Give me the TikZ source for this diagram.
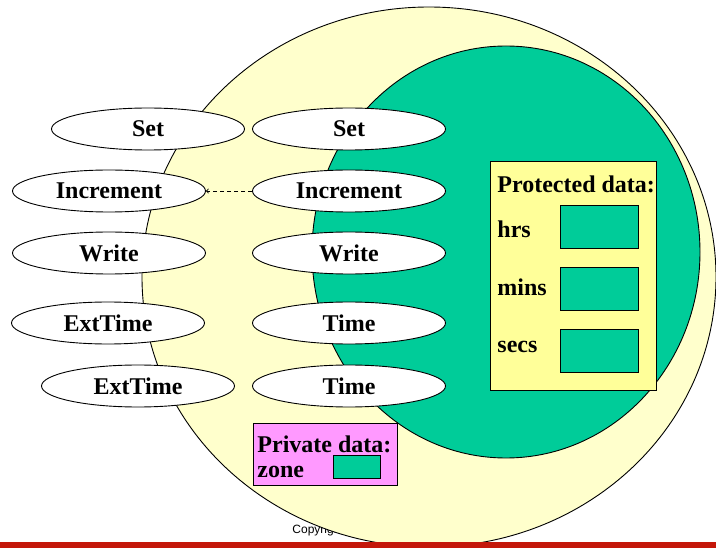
\documentclass[tikz,border=0pt]{standalone}
\usepackage{fontspec}
\setmainfont{Liberation Serif}
\newfontfamily\copyfont{Liberation Sans}
\usetikzlibrary{shapes.geometric}
\definecolor{shell}{HTML}{FFFFCC}
\definecolor{core}{HTML}{00CC99}
\definecolor{prot}{HTML}{FFFF99}
\definecolor{priv}{HTML}{FF99FF}
\definecolor{bar}{HTML}{C4170A}

\begin{document}
\begin{tikzpicture}[x=1pt,y=-1pt,line width=0.9pt,
  op/.style={draw,ellipse,fill=white,minimum width=193pt,minimum height=42pt,inner sep=0pt,
    font=\fontsize{24}{28}\selectfont\bfseries},
  lbl/.style={anchor=base west,inner sep=0pt,font=\fontsize{24}{28}\selectfont\bfseries},
  slot/.style={draw,fill=core}]
\useasboundingbox (0,0) rectangle (716,548);

\node[anchor=base west,inner sep=0pt,font=\copyfont\fontsize{12}{14}\selectfont] (copy) at (292,533) {Copyright};

\draw[fill=shell] (429,277) ellipse [x radius=287pt, y radius=270pt];
\draw[fill=core] (506,252) ellipse [x radius=194pt, y radius=206pt];
\fill[bar] (0,542) rectangle (716,548);

\node[op] (setL) at (148,129) {Set};
\node[op] (setR) at (349,129) {Set};
\node[op] (incL) at (109,191) {Increment};
\node[op] (incR) at (349,191) {Increment};
\node[op] (wrL) at (109,253) {Write};
\node[op] (wrR) at (349,253) {Write};
\node[op] (extA) at (108,323) {ExtTime};
\node[op] (timeA) at (349,323) {Time};
\node[op] (extB) at (138,386) {ExtTime};
\node[op] (timeB) at (349,386) {Time};

\path[draw,dash pattern=on 4pt off 3pt,->] (incR) -- (incL);

\draw[fill=prot] (490,161) rectangle (656,390);
\node[lbl] (protT) at (497,193) {Protected data:};
\node[lbl] (hrs) at (497,238) {hrs};
\node[lbl] (mins) at (497,296) {mins};
\node[lbl] (secs) at (497,353) {secs};
\draw[slot] (560,205) rectangle (638,248);
\draw[slot] (560,267) rectangle (638,310);
\draw[slot] (560,329) rectangle (638,372);

\draw[fill=priv] (253,423) rectangle (397,485);
\node[lbl] (privT) at (257,453) {Private data:};
\node[lbl] (zone) at (257,478) {zone};
\draw[slot] (333,455) rectangle (380,478);
\end{tikzpicture}
\end{document}
